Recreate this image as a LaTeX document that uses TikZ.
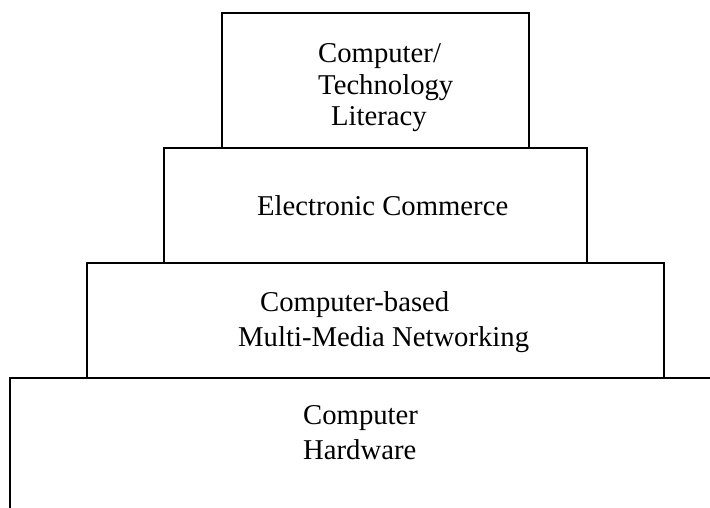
\documentclass[tikz,border=0pt]{standalone}
\usepackage{fontspec}
\setmainfont{Liberation Serif}
\begin{document}
\begin{tikzpicture}[x=1pt,y=-1pt,
  tier/.style={draw=black,line width=1.8pt,rectangle,inner sep=0pt},
  lbl/.style={anchor=base west,inner sep=0pt,font=\fontsize{28.7}{34}\selectfont}]
\useasboundingbox (0,0) rectangle (710,508);
% tiers
\node[tier,minimum width=307pt,minimum height=135pt] (t1) at (375.5,80.5) {};
\node[tier,minimum width=423pt,minimum height=115pt] (t2) at (375.5,205.5) {};
\node[tier,minimum width=577pt,minimum height=115pt] (t3) at (375.5,320.5) {};
\coordinate (b1) at (10,510);
\coordinate (b2) at (10,378);
\coordinate (b3) at (712,378);
\draw[line width=1.8pt] (b1) -- (b2) -- (b3);
% labels
\node[lbl] (l1a) at (318,62.5) {Computer/};
\node[lbl] (l1b) at (318,95) {Technology};
\node[lbl] (l1c) at (331,126) {Literacy};
\node[lbl] (l2) at (257,215) {Electronic Commerce};
\node[lbl] (l3a) at (260,311) {Computer-based};
\node[lbl] (l3b) at (238,346) {Multi-Media Networking};
\node[lbl] (l4a) at (303,424) {Computer};
\node[lbl] (l4b) at (303,459) {Hardware};
\end{tikzpicture}
\end{document}
